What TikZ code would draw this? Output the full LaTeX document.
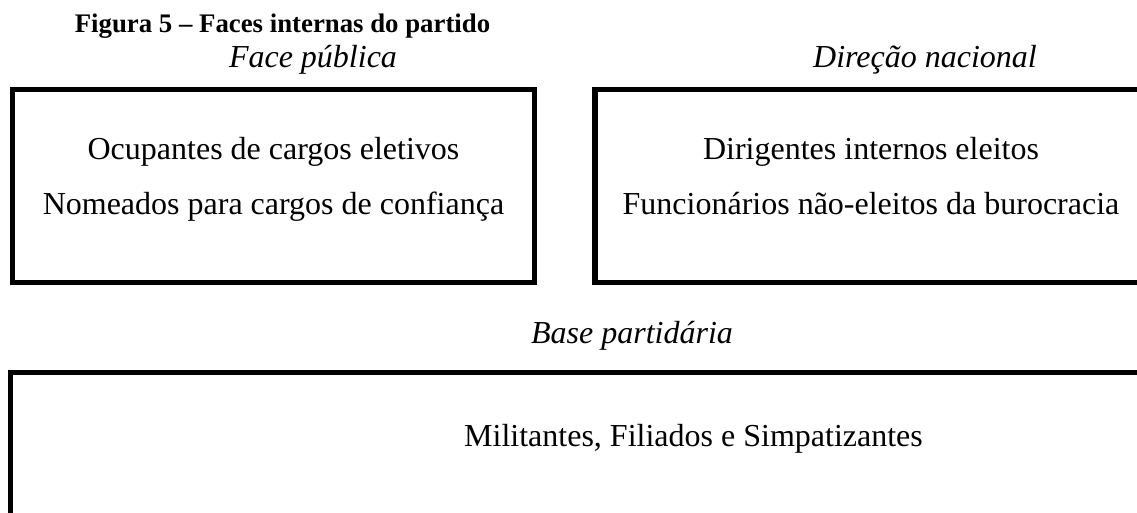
\documentclass[tikz,border=0pt]{standalone}
\usepackage{fontspec}
\setmainfont{Liberation Serif}
\tikzset{
	caixa/.style={draw=black, line width=2.75pt},
	texto/.style={anchor=base, inner sep=0pt, font=\fontsize{16}{19}\selectfont},
	face/.style={texto, font=\fontsize{16}{19}\selectfont\itshape},
	titulo/.style={anchor=base, inner sep=0pt, font=\fontsize{13.4}{16}\selectfont\bfseries}
}
\begin{document}
\begin{tikzpicture}[x=0.5pt,y=-0.5pt]
	\useasboundingbox (0,0) rectangle (1137,513);
	\clip (0,0) rectangle (1137,513);
	\node[titulo] (tit) at (282.5,33) {Figura 5 – Faces internas do partido};
	
	\node[face] (f1) at (313,68) {Face pública};
	\node[face] (f2) at (925,68) {Direção nacional};
	\draw[caixa] (12.5,89.5) rectangle (534.5,282.5);
	\draw[caixa] (595,89.5) rectangle (1160,282.5);
	\node[texto] (a1) at (273.5,160) {Ocupantes de cargos eletivos};
	\node[texto] (a2) at (273.5,215) {Nomeados para cargos de confiança};
	\node[texto] (b1) at (871,160) {Dirigentes internos eleitos};
	\node[texto] (b2) at (871,215) {Funcionários não-eleitos da burocracia};
	
	\node[face] (f3) at (632,344) {Base partidária};
	\draw[caixa] (10.5,372.5) rectangle (1400,560);
	\node[texto] (c1) at (693.5,447) {Militantes, Filiados e Simpatizantes};
\end{tikzpicture}
\end{document}
